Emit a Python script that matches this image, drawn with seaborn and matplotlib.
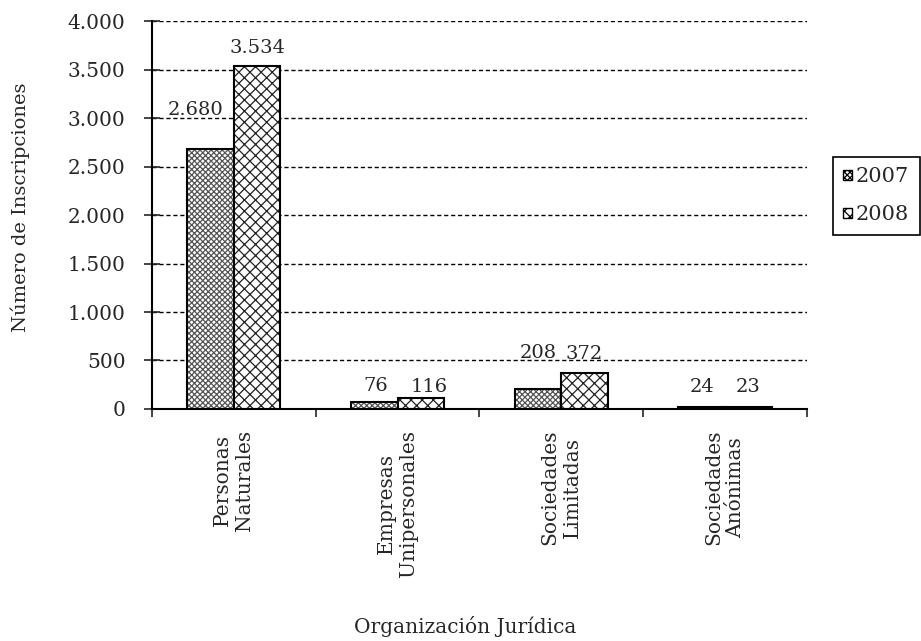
import numpy as np
import pandas as pd
import matplotlib
matplotlib.use("Agg")
import matplotlib.pyplot as plt
import matplotlib.ticker as mticker
import seaborn as sns

# Chart data
organizaciones = ["Personas\nNaturales", "Empresas\nUnipersonales",
                  "Sociedades\nLimitadas", "Sociedades\nAnónimas"]
anios = ["2007", "2008"]
valores_2007 = [2680, 76, 208, 24]
valores_2008 = [3534, 116, 372, 23]

# label offset above each bar (points): (dx, dy) per year
off_2007 = [(-11, 22), (1, 5), (0, 19), (0, 8)]
off_2008 = [(0, 7), (6, 1), (0, 7), (0, 8)]

df = pd.DataFrame({
    "org": organizaciones * 2,
    "anio": [anios[0]] * 4 + [anios[1]] * 4,
    "valor": valores_2007 + valores_2008,
})

sns.set_style("white")
plt.rcParams["font.family"] = ["DejaVu Serif"]
plt.rcParams["hatch.linewidth"] = 0.9

fig = plt.figure(figsize=(9.21, 6.41), dpi=100)
ax = fig.add_axes([0.165, 0.362, 0.711, 0.605])

sns.barplot(data=df, x="org", y="valor", hue="anio", order=organizaciones,
            hue_order=anios, palette=["white", "white"], edgecolor="black",
            linewidth=1.5, width=0.57, saturation=1, legend=False, ax=ax)

hatches = ["xxxxxx", "xxx"]
hatch_colors = ["#555555", "#222222"]
for cont, h, hc in zip(ax.containers, hatches, hatch_colors):
    for bar in cont:
        bar.set_hatch(h)
        bar._hatch_color = matplotlib.colors.to_rgba(hc)

fmt = lambda v: f"{v:,.0f}".replace(",", ".")
for cont, offs in zip(ax.containers, [off_2007, off_2008]):
    for bar, (dx, dy) in zip(cont, offs):
        ax.annotate(fmt(bar.get_height()),
                    (bar.get_x() + bar.get_width() / 2, bar.get_height()),
                    xytext=(dx, dy), textcoords="offset points",
                    ha="center", va="bottom", fontsize=14)

ax.set_ylim(0, 4000)
ax.set_xlim(-0.5, 3.5)
ax.yaxis.set_major_locator(mticker.MultipleLocator(500))
ax.yaxis.set_major_formatter(mticker.FuncFormatter(lambda v, p: fmt(v)))
ax.grid(axis="y", color="black", linestyle=(0, (3, 2)), linewidth=1)
ax.set_axisbelow(True)

# category boundaries get tick marks, labels sit at centers
ax.set_xticks(np.arange(-0.5, 4.0, 1.0))
ax.set_xticklabels([])
ax.set_xticks(np.arange(4), minor=True)
ax.set_xticklabels(organizaciones, minor=True, rotation=90, ha="center",
                   va="top", multialignment="center", fontsize=14.5)
ax.tick_params(axis="x", which="minor", length=0, pad=15)
ax.tick_params(axis="x", which="major", length=6, width=1.2, direction="out",
               bottom=True)
ax.tick_params(axis="y", length=12, width=1.2, direction="inout", left=True,
               labelsize=14.5, pad=13)

for s in ["top", "right"]:
    ax.spines[s].set_visible(False)
for s in ["left", "bottom"]:
    ax.spines[s].set_color("black")
    ax.spines[s].set_linewidth(1.5)

ax.set_ylabel("")
ax.set_xlabel("")
fig.text(0.022, 0.677, "Número de Inscripciones", rotation=90, ha="center",
         va="center", fontsize=14)
fig.text(0.505, 0.022, "Organización Jurídica", ha="center",
         va="center", fontsize=14.5)

handles = [matplotlib.patches.Patch(facecolor="white", edgecolor="black",
                                    hatch=h, label=a)
           for h, a in zip(hatches, anios)]
leg = fig.legend(handles=handles, loc="upper left",
                 bbox_to_anchor=(0.9045, 0.755), borderaxespad=0,
                 fontsize=15, handlelength=0.4, handleheight=0.4,
                 handletextpad=0.2, labelspacing=0.9, borderpad=0.5,
                 fancybox=False, edgecolor="black", framealpha=1)
leg.get_frame().set_linewidth(1.2)

fig.savefig("out.png", dpi=100)
